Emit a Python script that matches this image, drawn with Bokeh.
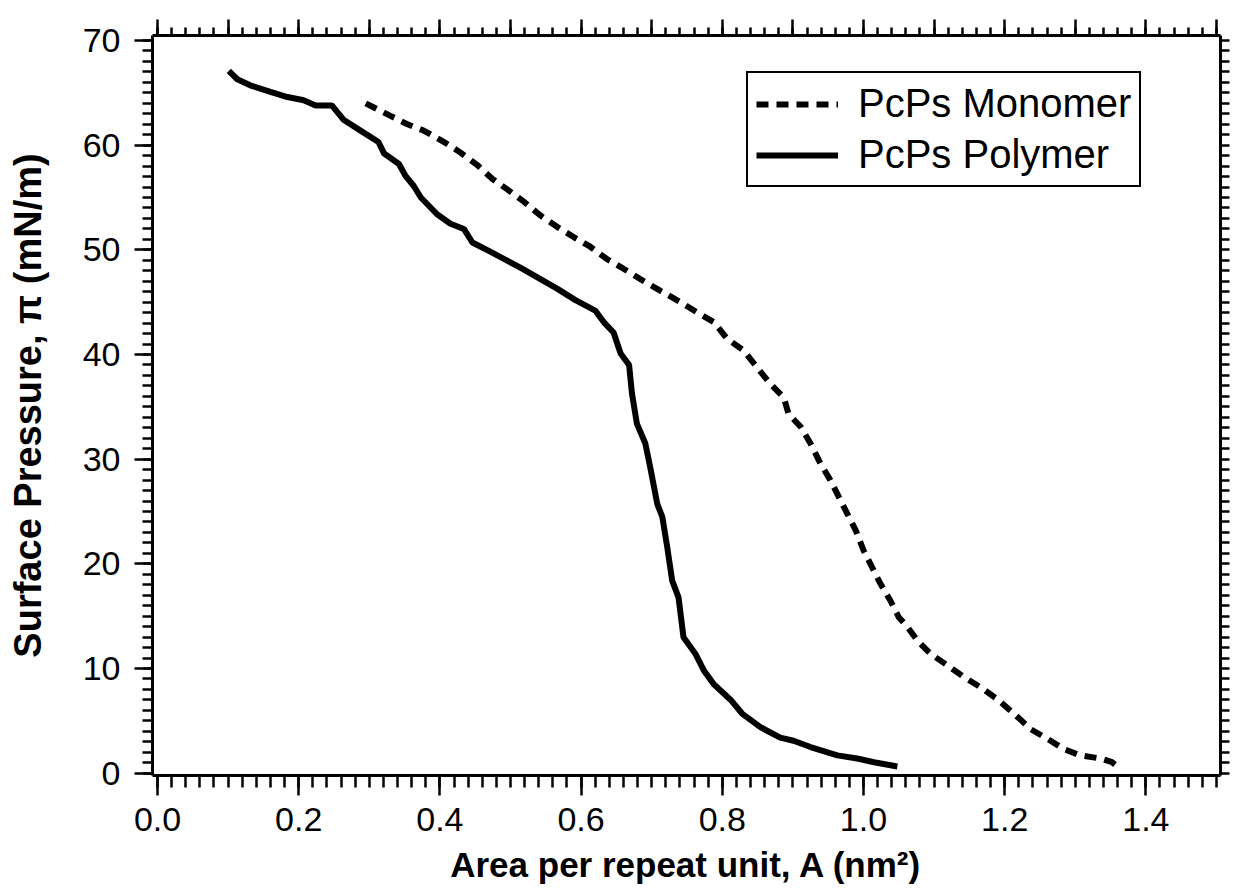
import numpy as np
from bokeh.plotting import figure
from bokeh.models import (LinearAxis, FixedTicker, Legend, LegendItem, Range1d,
                          CustomJSTickFormatter, PrintfTickFormatter)
from bokeh.embed import file_html
from bokeh.resources import INLINE

# ---------------- data ----------------
polymer_area = [0.101, 0.113, 0.132, 0.160, 0.184, 0.207, 0.224, 0.247, 0.264, 0.292,
                0.313, 0.321, 0.342, 0.351, 0.363, 0.373, 0.396, 0.415, 0.434, 0.446,
                0.472, 0.514, 0.566, 0.592, 0.620, 0.632, 0.646, 0.656, 0.668, 0.672,
                0.679, 0.691, 0.698, 0.708, 0.715, 0.722, 0.729, 0.738, 0.745, 0.762,
                0.774, 0.788, 0.812, 0.828, 0.854, 0.882, 0.901, 0.925, 0.963, 0.991,
                1.015, 1.048]
polymer_pressure = [67.1, 66.3, 65.7, 65.1, 64.6, 64.3, 63.8, 63.8, 62.4, 61.2,
                    60.3, 59.2, 58.2, 57.1, 56.1, 55.0, 53.4, 52.5, 52.0, 50.7,
                    49.8, 48.3, 46.3, 45.2, 44.2, 43.1, 42.1, 40.1, 39.0, 36.3,
                    33.4, 31.5, 29.2, 25.7, 24.5, 21.6, 18.4, 16.8, 13.0, 11.4,
                    9.8, 8.5, 7.0, 5.7, 4.4, 3.4, 3.1, 2.5, 1.7, 1.4,
                    1.05, 0.64]

monomer_area = [0.295, 0.330, 0.354, 0.377, 0.406, 0.429, 0.453, 0.474, 0.495, 0.519,
                0.542, 0.566, 0.590, 0.613, 0.637, 0.660, 0.684, 0.712, 0.741, 0.760,
                0.788, 0.807, 0.830, 0.849, 0.868, 0.887, 0.894, 0.911, 0.925, 0.939,
                0.953, 0.965, 0.977, 0.989, 1.000, 1.012, 1.024, 1.038, 1.050, 1.062,
                1.076, 1.095, 1.119, 1.142, 1.166, 1.189, 1.213, 1.237, 1.260, 1.284,
                1.307, 1.336, 1.352, 1.364]
monomer_pressure = [64.0, 62.8, 62.0, 61.4, 60.3, 59.3, 58.1, 56.8, 55.8, 54.6,
                    53.3, 52.2, 51.2, 50.3, 49.1, 48.2, 47.2, 46.1, 45.0, 44.2,
                    43.1, 41.5, 40.4, 38.8, 37.2, 35.9, 34.3, 33.1, 31.5, 29.6,
                    28.0, 26.4, 24.8, 23.2, 21.3, 19.7, 18.1, 16.5, 14.9, 14.0,
                    12.7, 11.4, 10.3, 9.2, 8.2, 7.1, 5.7, 4.2, 3.3, 2.3,
                    1.7, 1.4, 1.05, 0.4]

x_major_ticks = [0.0, 0.2, 0.4, 0.6, 0.8, 1.0, 1.2, 1.4]
y_major_ticks = [0, 10, 20, 30, 40, 50, 60, 70]
top_major_ticks = [0.0, 0.1, 0.2, 0.3, 0.4, 0.5, 0.6, 0.7, 0.8, 0.9, 1.0, 1.1, 1.2, 1.3, 1.4, 1.5]

series_labels = ["PcPs Monomer", "PcPs Polymer"]
x_title = "Area per repeat unit, A (nm\u00b2)"
y_title = "Surface Pressure, \u03c0 (mN/m)"

# ---------------- figure ----------------
FONT = "Liberation Sans"

p = figure(width=1234, height=888, output_backend="svg", toolbar_location=None,
           x_range=Range1d(-0.0071, 1.5057), y_range=Range1d(-0.22, 70.48),
           x_axis_location=None, y_axis_location=None,
           min_border_left=152, min_border_right=14, min_border_top=35,
           min_border_bottom=113)
p.xgrid.visible = False
p.ygrid.visible = False
p.outline_line_color = None
p.background_fill_color = "white"
p.border_fill_color = "white"

x_minor = list(np.round(np.arange(0.0, 1.5001, 0.02), 4))
y_minor = list(range(0, 71))

def style(ax, major_out, minor_out):
    ax.axis_line_width = 3
    ax.axis_line_color = "black"
    ax.major_tick_line_width = 2.5
    ax.minor_tick_line_width = 2.5
    ax.major_tick_line_color = "black"
    ax.minor_tick_line_color = "black"
    ax.major_tick_in = 0
    ax.minor_tick_in = 0
    ax.major_tick_out = major_out
    ax.minor_tick_out = minor_out

# bottom axis
xb = LinearAxis(ticker=FixedTicker(ticks=x_major_ticks, minor_ticks=x_minor),
                formatter=PrintfTickFormatter(format="%.1f"),
                axis_label=x_title)
style(xb, 20, 12)
xb.major_label_text_font = FONT
xb.major_label_text_font_size = "34px"
xb.major_label_text_color = "black"
xb.major_label_standoff = 12
xb.axis_label_text_font = FONT
xb.axis_label_text_font_style = "bold"
xb.axis_label_text_font_size = "35px"
xb.axis_label_text_color = "black"
xb.axis_label_standoff = 11
p.add_layout(xb, "below")

# left axis
yl = LinearAxis(ticker=FixedTicker(ticks=y_major_ticks, minor_ticks=y_minor),
                axis_label=y_title)
style(yl, 18, 10)
yl.major_label_text_font = FONT
yl.major_label_text_font_size = "34px"
yl.major_label_text_color = "black"
yl.major_label_standoff = 14
yl.axis_label_text_font = FONT
yl.axis_label_text_font_style = "bold"
yl.axis_label_text_font_size = "38px"
yl.axis_label_text_color = "black"
yl.axis_label_standoff = 31
p.add_layout(yl, "left")

blank = CustomJSTickFormatter(code="return ''")

# top axis (unlabelled)
xt = LinearAxis(ticker=FixedTicker(ticks=top_major_ticks, minor_ticks=x_minor),
                formatter=blank)
style(xt, 16, 8)
xt.major_label_text_font_size = "10px"
xt.major_label_standoff = 0
p.add_layout(xt, "above")

# right axis (unlabelled)
yr = LinearAxis(ticker=FixedTicker(ticks=y_minor, minor_ticks=[]), formatter=blank)
style(yr, 9, 0)
yr.major_label_text_font_size = "10px"
yr.major_label_standoff = 0
p.add_layout(yr, "right")

# curves
r_mono = p.line(monomer_area, monomer_pressure, line_color="black", line_width=6,
                line_dash="12 8")
r_poly = p.line(polymer_area, polymer_pressure, line_color="black", line_width=6)

legend = Legend(items=[LegendItem(label=series_labels[0], renderers=[r_mono]),
                       LegendItem(label=series_labels[1], renderers=[r_poly])],
                location=(594, 588))
legend.label_text_font = FONT
legend.label_text_font_size = "40px"
legend.label_text_color = "black"
legend.glyph_width = 82
legend.glyph_height = 40
legend.label_height = 40
legend.label_standoff = 20
legend.spacing = 6
legend.padding = 8
legend.margin = 0
legend.border_line_color = "black"
legend.border_line_alpha = 1.0
legend.border_line_width = 2.5
legend.background_fill_color = "white"
legend.background_fill_alpha = 1.0
p.add_layout(legend, "center")

open("out.html", "w").write(file_html(p, INLINE))
